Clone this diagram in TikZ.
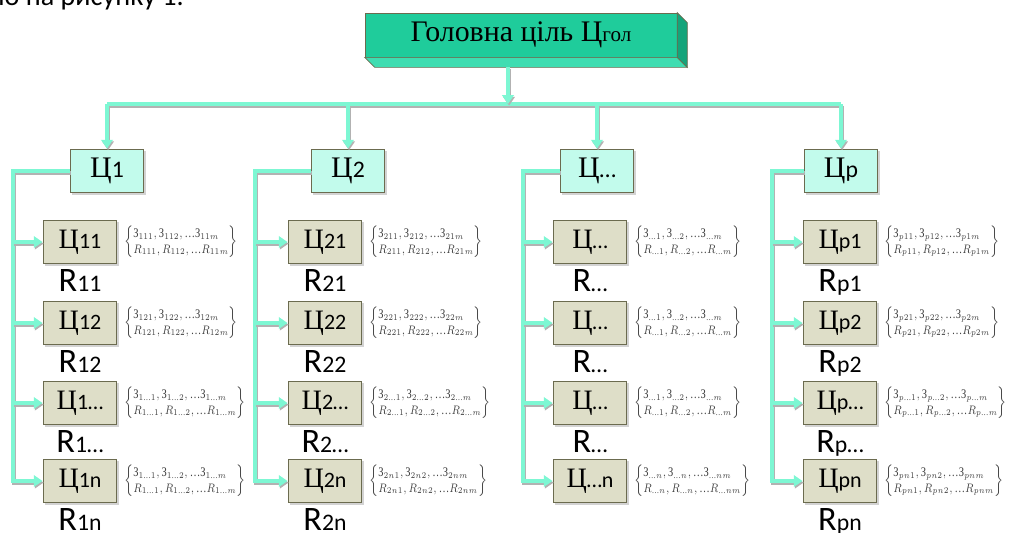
\documentclass[tikz,border=0pt]{standalone}
\usepackage{fontspec}
\usepackage{amsmath}
\usepackage{graphicx}
\setmainfont{Liberation Serif}
\newfontfamily\calibri{Carlito}
\usetikzlibrary{arrows.meta,shadows,positioning,calc}

\definecolor{aqualine}{HTML}{7DF7D3}
\definecolor{goalfront}{HTML}{1FCC9B}
\definecolor{goalfoot}{HTML}{3FDDB1}
\definecolor{goalside}{HTML}{14A47A}
\definecolor{tierone}{HTML}{C2FBEC}
\definecolor{tiertwo}{HTML}{DEDEC8}
\definecolor{boxedge}{HTML}{6B6B4F}
\definecolor{notegray}{HTML}{404040}

\newcommand{\subf}[2]{{\calibri\fontsize{#1}{#1}\selectfont #2}}
\newcommand{\el}{\text{…}}
\newcommand{\zset}[3]{\scalebox{0.8}[1]{$\renewcommand{\arraystretch}{1.0}\left\{\begin{array}{@{}l@{}}\text{З}_{#1},\text{З}_{#2},\el\text{З}_{#3}\\ R_{#1},R_{#2},\el R_{#3}\end{array}\right\}$}}

\tikzset{
  goalbox/.style={draw=boxedge, fill=goalfront, minimum width=6.24cm, minimum height=0.88cm, inner sep=0pt, font=\fontsize{17}{17}\selectfont},
  tierbox/.style={draw=boxedge, thick, minimum width=1.47cm, minimum height=0.87cm, inner sep=0pt,
    drop shadow={shadow xshift=1.2pt, shadow yshift=-1.2pt, opacity=.35}},
  goalone/.style={tierbox, fill=tierone, font=\fontsize{17}{17}\selectfont},
  goaltwo/.style={tierbox, fill=tiertwo, font=\fontsize{16}{16}\selectfont},
  rlabel/.style={inner sep=0pt, anchor=north, font=\calibri\fontsize{19.5}{19.5}\selectfont},
  setnote/.style={inner sep=0pt, anchor=west, text=notegray, font=\fontsize{7.5}{9}\selectfont},
  rail/.style={draw=aqualine, line width=2.3pt,
    preaction={draw=black!30, line width=2.3pt, transform canvas={shift={(0.6pt,-0.9pt)}}}},
  link/.style={rail, -{Triangle[length=5pt,width=6.5pt]}}
}

\begin{document}
\begin{tikzpicture}[x=0.02cm, y=-0.02cm]
\useasboundingbox (0,0) rectangle (1015,532);
\clip (0,0) rectangle (1015,532);
\node[anchor=base east, font=\calibri\fontsize{16}{16}\selectfont] (intro) at (190,5) {но на рисунку 1.};

\node[goalbox] (goal) at (521,35) {Головна ціль Ц{\fontsize{12}{12}\selectfont гол}};
\filldraw[fill=goalfoot, draw=boxedge] (goal.south west) -- (goal.south east) -- ++(10,10) -- ($(goal.south west)+(10,10)$) -- cycle;
\filldraw[fill=goalside, draw=boxedge] (goal.north east) -- ++(10,10) -- ($(goal.south east)+(10,10)$) -- (goal.south east) -- cycle;
\coordinate (goalbase) at ($(goal.south)+(-13,10)$);
\coordinate (bus) at (508,104);

\foreach \c/\x/\s in {1/107/1, 2/348/2, 3/597/…, 4/841/p}
  \node[goalone] (c\c) at (\x,171) {Ц\subf{13.5}{\s}};
\draw[rail] (c1 |- bus) -- (c4 |- bus);
\draw[link] (goalbase) -- (bus);
\foreach \c in {1,...,4}
  \draw[link] (c\c |- bus) -- (c\c.north);

\foreach \c/\r/\x/\y/\s/\a/\b/\z in {
  1/1/80/242/11/111/112/11m, 1/2/80/323/12/121/122/12m,
  1/3/80/403/1…/1\el1/1\el2/1\el m, 1/4/80/481/1n/1\el1/1\el2/1\el m,
  2/1/325/242/21/211/212/21m, 2/2/325/323/22/221/222/22m,
  2/3/325/403/2…/2\el1/2\el2/2\el m, 2/4/325/481/2n/2n1/2n2/2nm,
  3/1/590/242/…/\el1/\el2/\el m, 3/2/590/323/…/\el1/\el2/\el m,
  3/3/590/403/…/\el1/\el2/\el m, 3/4/590/481/…n/\el n/\el n/\el nm,
  4/1/840/242/p1/p11/p12/p1m, 4/2/840/323/p2/p21/p22/p2m,
  4/3/840/403/p…/p\el1/p\el2/p\el m, 4/4/840/481/pn/pn1/pn2/pnm}
{
  \node[goaltwo] (k\c\r) at (\x,\y) {Ц\subf{12.5}{\s}};
  \node[setnote, right=0.13cm of k\c\r] (z\c\r) {\zset{\a}{\b}{\z}};
}

\foreach \c/\v in {1/13, 2/255, 3/523, 4/772}
{
  \coordinate (rail\c) at (\v,171);
  \draw[link] (c\c.west) -- (rail\c) |- (k\c4.west);
  \foreach \r in {1,2,3}
    \draw[link] (rail\c |- k\c\r.west) -- (k\c\r.west);
}

\foreach \c/\r/\s in {1/1/11, 1/2/12, 1/3/1…, 1/4/1n, 2/1/21, 2/2/22, 2/3/2…, 2/4/2n,
  3/1/…, 3/2/…, 3/3/…, 4/1/p1, 4/2/p2, 4/3/p…, 4/4/pn}
  \node[rlabel, below=0.1cm of k\c\r] (r\c\r) {R\subf{13.5}{\s}};
\end{tikzpicture}
\end{document}
